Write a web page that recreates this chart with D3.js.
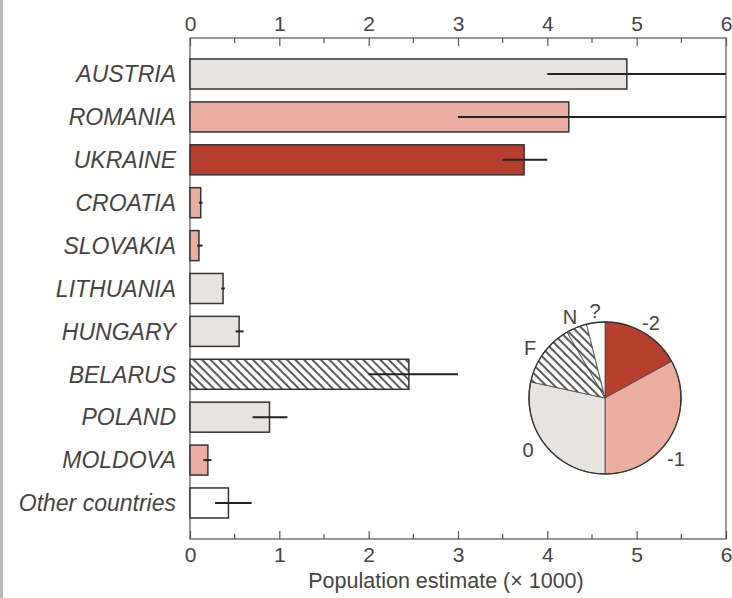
<!DOCTYPE html>
<html>
<head>
<meta charset="utf-8">
<script src="https://cdn.jsdelivr.net/npm/d3@7"></script>
<style>
	body { margin: 0; background: #fff; }
	text { font-family: "Liberation Sans", Arial, sans-serif; fill: #444; }
</style>
</head>
<body>
<div id="chart"></div>
<script>
// data
const countries = ['AUSTRIA', 'ROMANIA', 'UKRAINE', 'CROATIA', 'SLOVAKIA', 'LITHUANIA',
	'HUNGARY', 'BELARUS', 'POLAND', 'MOLDOVA', 'Other countries'];
const estimates = [4.89, 4.24, 3.74, 0.12, 0.1, 0.37, 0.55, 2.45, 0.89, 0.2, 0.43];
const errLow = [4.0, 3.0, 3.5, 0.1, 0.08, 0.35, 0.51, 2.0, 0.7, 0.15, 0.28];
const errHigh = [6.0, 6.0, 4.0, 0.14, 0.14, 0.39, 0.6, 3.0, 1.09, 0.24, 0.69];
const status = ['0', '-1', '-2', '-1', '-1', '0', '0', 'F', '0', '-1', '?'];

const pieCats = ['-2', '-1', '0', 'F', 'N', '?'];
const pieShares = [17, 33, 28.4, 13.3, 4.4, 3.9];

const xTicks = [0, 1, 2, 3, 4, 5, 6];

(() => {
	const width = 732, height = 598;
	const margin = { top: 38, right: 6, bottom: 59, left: 190 };
	const innerW = width - margin.left - margin.right;
	const innerH = height - margin.top - margin.bottom;

	const fills = {
		'0': '#e6e3e0',
		'-1': '#e9ae9f',
		'-2': '#b63f2d',
		'F': 'url(#hatch)',
		'N': 'url(#hatch)',
		'?': '#ffffff'
	};

	const svg = d3.select('#chart').append('svg')
		.attr('width', width)
		.attr('height', height);

	const defs = svg.append('defs');
	const pat = defs.append('pattern')
		.attr('id', 'hatch')
		.attr('patternUnits', 'userSpaceOnUse')
		.attr('width', 6)
		.attr('height', 6)
		.attr('patternTransform', 'rotate(45)');
	pat.append('rect').attr('width', 6).attr('height', 6).attr('fill', '#fff');
	pat.append('line')
		.attr('x1', 0).attr('y1', 3).attr('x2', 6).attr('y2', 3)
		.attr('stroke', '#333').attr('stroke-width', 1.6);

	// scanned page edge
	svg.append('rect').attr('x', 0).attr('y', 0).attr('width', 3).attr('height', height)
		.attr('fill', '#bdbab6');

	const chart = svg.append('g')
		.attr('transform', `translate(${margin.left}, ${margin.top})`);

	const x = d3.scaleLinear().domain([0, 6]).range([0, innerW]);
	const y = d3.scaleBand().domain(countries).range([0, innerH])
		.paddingInner(0.3).paddingOuter(0.49);

	// frame
	chart.append('rect')
		.attr('width', innerW).attr('height', innerH)
		.attr('fill', 'none').attr('stroke', '#555').attr('stroke-width', 1.2);

	const minor = d3.range(0.5, 6, 1);
	const drawAxis = (axis, isTop) => {
		const g = chart.append('g')
			.attr('transform', `translate(0, ${isTop ? 0 : innerH})`)
			.call(axis.tickValues(xTicks).tickFormat(d3.format('d'))
				.tickSize(-8).tickPadding(isTop ? 7 : 8));
		g.select('.domain').remove();
		g.selectAll('.tick line').attr('stroke', '#555').attr('stroke-width', 1.2);
		g.selectAll('.tick text').attr('font-size', 21).style('fill', '#444');
		g.selectAll('.minor').data(minor).enter().append('line')
			.attr('x1', d => x(d)).attr('x2', d => x(d))
			.attr('y1', 0).attr('y2', isTop ? 5 : -5)
			.attr('stroke', '#555').attr('stroke-width', 1.2);
	};
	drawAxis(d3.axisTop(x), true);
	drawAxis(d3.axisBottom(x), false);

	// country labels
	chart.selectAll('.label')
		.data(countries)
		.enter().append('text')
			.attr('x', -14)
			.attr('y', d => y(d) + y.bandwidth() / 2)
			.attr('dy', '0.36em')
			.attr('text-anchor', 'end')
			.attr('font-size', 23)
			.attr('font-style', 'italic')
			.text(d => d);

	// bars
	chart.selectAll('.bar')
		.data(countries)
		.enter().append('rect')
			.attr('x', x(0))
			.attr('y', d => y(d))
			.attr('width', (d, i) => x(estimates[i]) - x(0))
			.attr('height', y.bandwidth())
			.attr('fill', (d, i) => fills[status[i]])
			.attr('stroke', '#333')
			.attr('stroke-width', 1.5);

	// error bars
	chart.selectAll('.err')
		.data(countries)
		.enter().append('line')
			.attr('x1', (d, i) => x(errLow[i]))
			.attr('x2', (d, i) => x(Math.min(errHigh[i], 6)))
			.attr('y1', d => y(d) + y.bandwidth() / 2)
			.attr('y2', d => y(d) + y.bandwidth() / 2)
			.attr('stroke', '#222')
			.attr('stroke-width', 2);

	// axis title
	svg.append('text')
		.attr('x', 446)
		.attr('y', 588)
		.attr('text-anchor', 'middle')
		.attr('font-size', 21.5)
		.text('Population estimate (\u00d7 1000)');

	/* --------- Pie inset --------- */
	const r = 76;
	const pieG = svg.append('g').attr('transform', 'translate(605, 398)');
	const pie = d3.pie().sort(null).value(d => d)(pieShares);
	const arc = d3.arc().innerRadius(0).outerRadius(r);
	pieG.selectAll('path')
		.data(pie)
		.enter().append('path')
			.attr('d', arc)
			.attr('fill', (d, i) => fills[pieCats[i]])
			.attr('stroke', '#444')
			.attr('stroke-width', 0.8);
	pieG.append('circle').attr('r', r)
		.attr('fill', 'none').attr('stroke', '#333').attr('stroke-width', 1.5);

	const labelPos = {
		'-2': [46, -75], '-1': [71, 61], '0': [-77, 52],
		'F': [-75, -50], 'N': [-35, -81], '?': [-10, -87]
	};
	pieG.selectAll('.plabel')
		.data(pieCats)
		.enter().append('text')
			.attr('x', d => labelPos[d][0])
			.attr('y', d => labelPos[d][1])
			.attr('dy', '0.36em')
			.attr('text-anchor', 'middle')
			.attr('font-size', 20)
			.text(d => d);
})();
</script>
</body>
</html>
